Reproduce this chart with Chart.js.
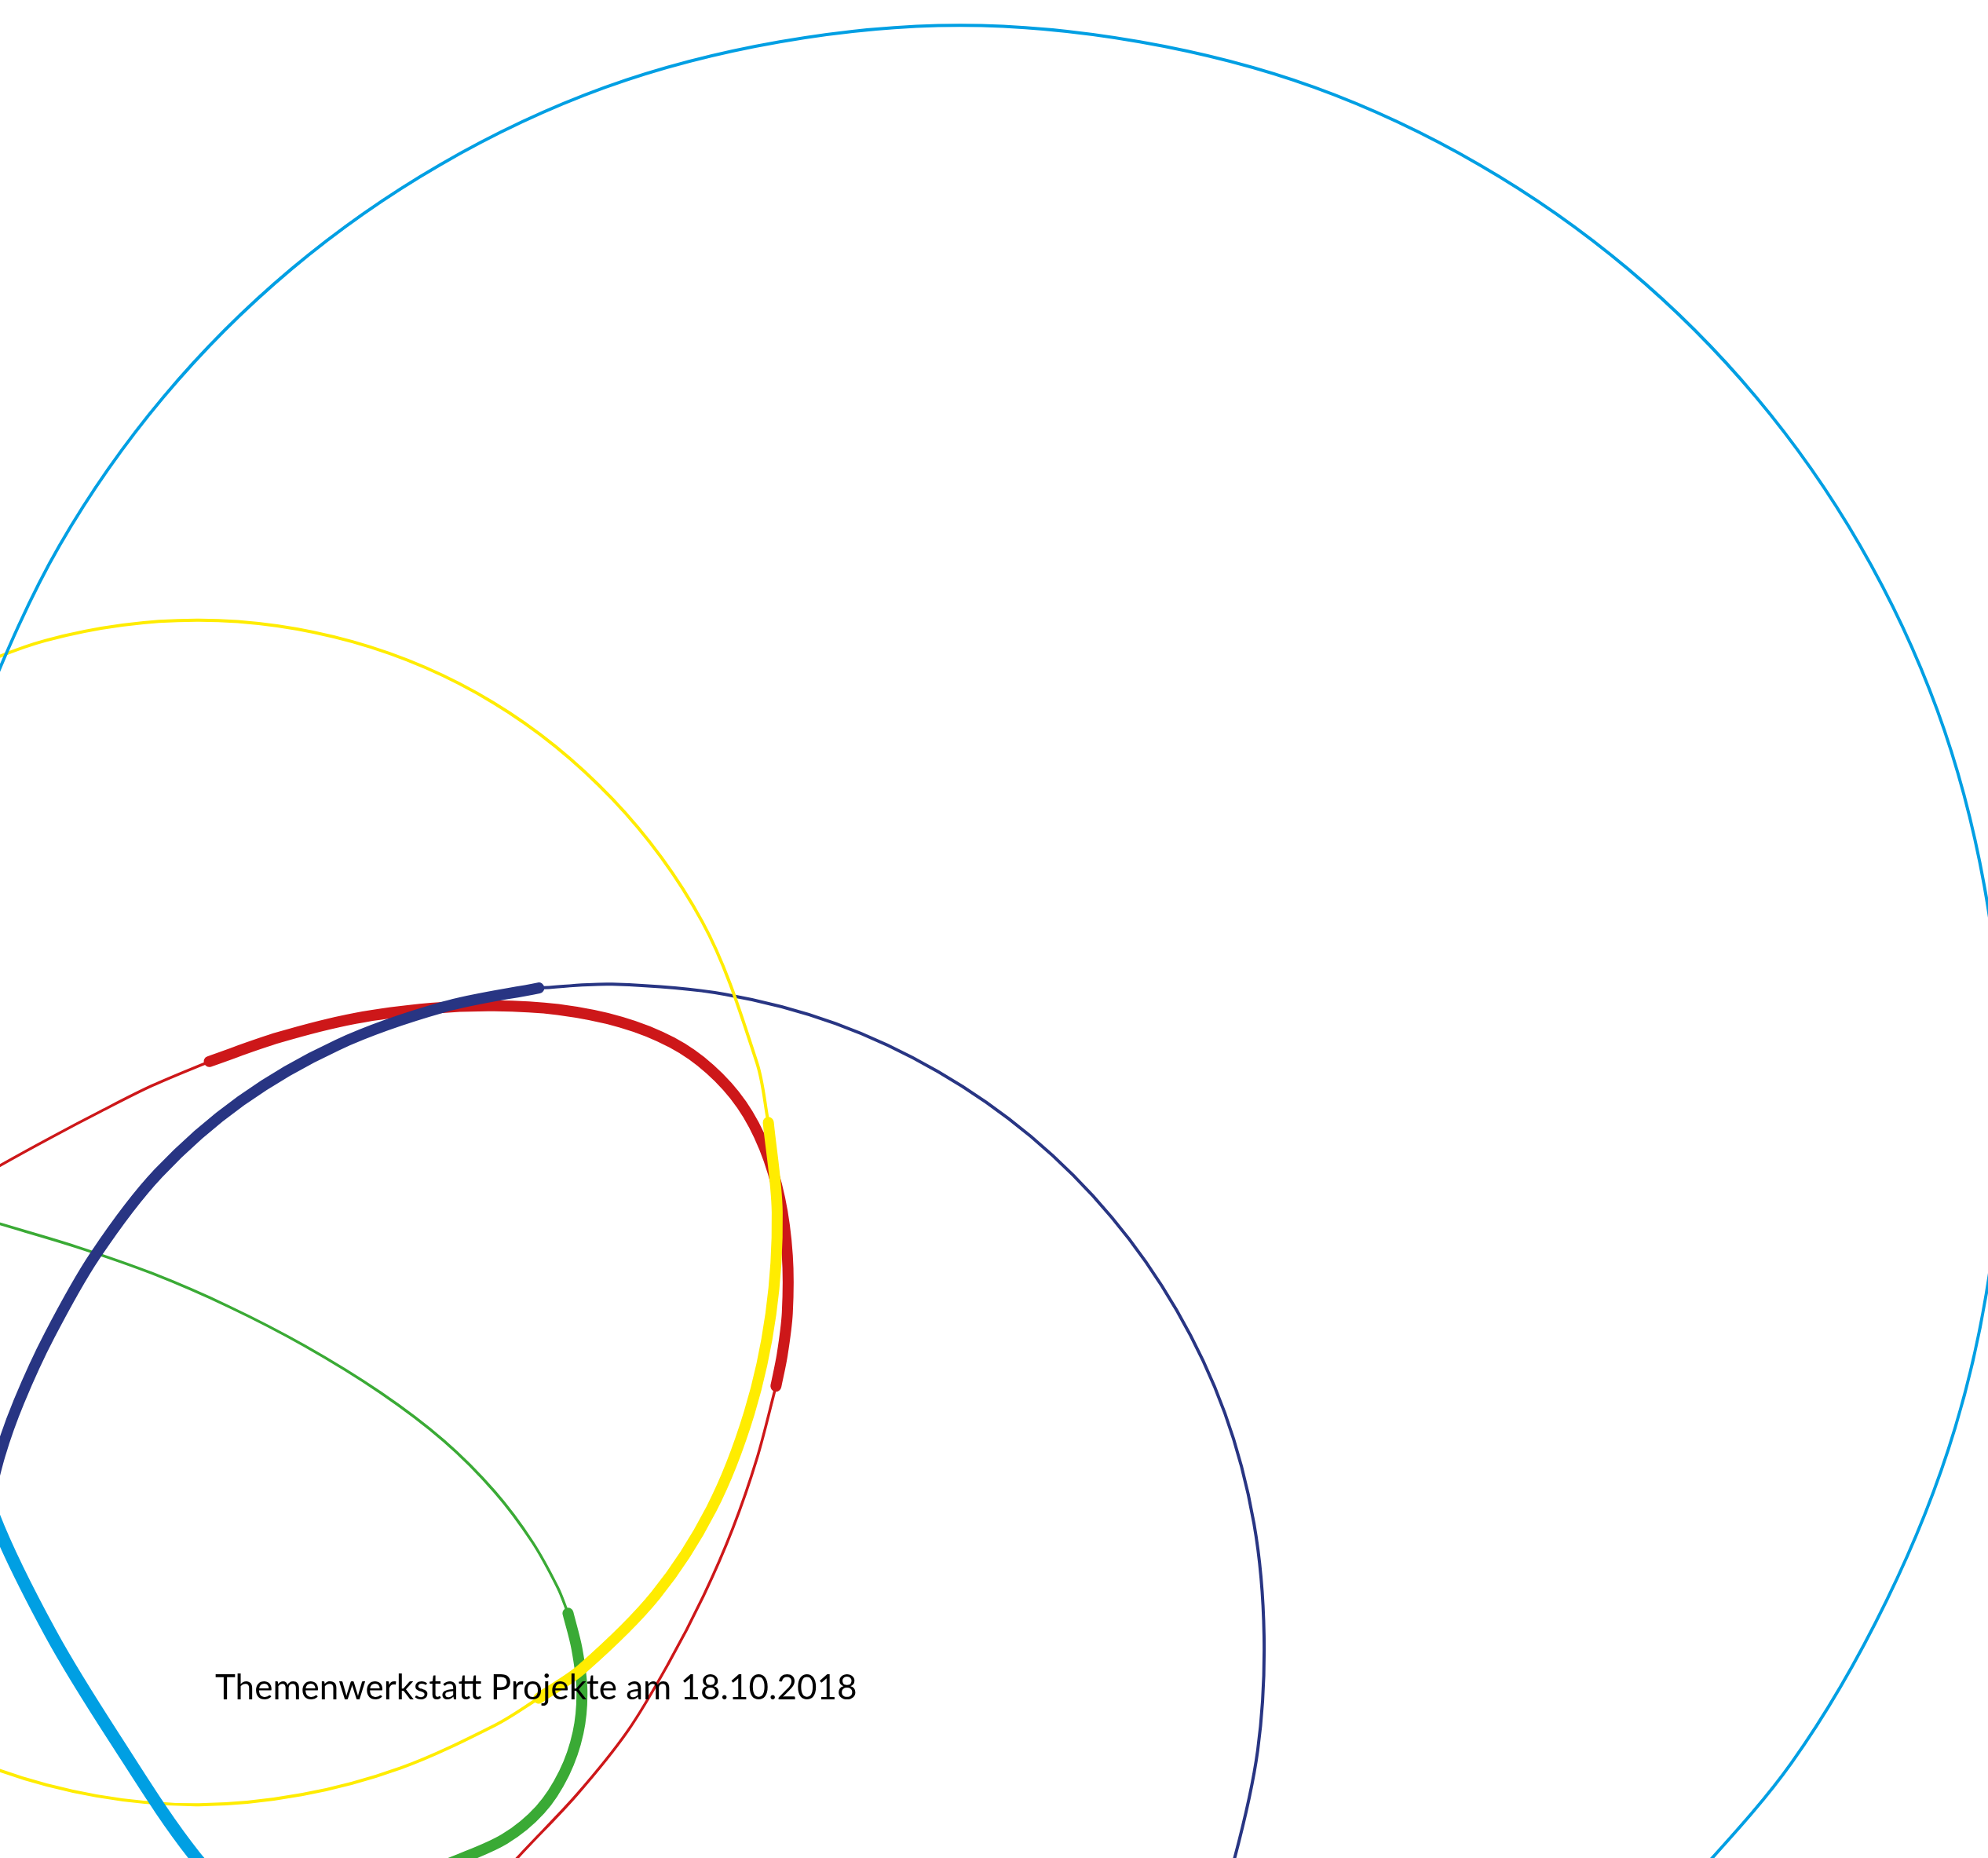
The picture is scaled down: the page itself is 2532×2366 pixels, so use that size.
<!DOCTYPE html>
<html>
<head>
<meta charset="utf-8">
<script src="https://cdn.jsdelivr.net/npm/chart.js@4/dist/chart.umd.min.js"></script>
<style>
  html, body { margin: 0; padding: 0; background: #ffffff; }
  #wrap { position: relative; width: 2532px; height: 2366px; overflow: hidden; }
  #c { position: absolute; left: 0; top: 0; }
  #caption { position: absolute; left: 274px; top: 2125px; font-family: Lato, "Open Sans", sans-serif;
             font-size: 44px; color: #000; white-space: nowrap; line-height: 1; }
</style>
</head>
<body>
<div id="wrap">
  <canvas id="c" width="2532" height="2366"></canvas>
  <div id="caption">Themenwerkstatt Projekte am 18.10.2018</div>
</div>
<script>
// Curves (units: reference picture, 1568 x 1465 grid, y downwards)
const blueThinX = [-35, -14, 47, 129, 230, 347, 477, 615, 757, 899, 1037, 1167, 1284, 1385, 1467, 1528, 1565, 1579, 1572, 1542, 1488, 1413, 1315];
const blueThinY = [628, 560, 430, 313, 212, 130, 69, 33, 20, 33, 69, 130, 212, 313, 430, 560, 698, 840, 984, 1126, 1262, 1390, 1505];
const blueThickX = [-50, -5, 40, 90, 154, 218];
const blueThickY = [1056, 1195, 1288, 1370, 1464, 1530];

const yellowThinAX = [-77, 36, 157, 278, 389, 483, 554, 597, 606];
const yellowThinAY = [552, 505, 489, 506, 554, 630, 727, 838, 885];
const yellowThickX = [606, 613, 608, 591, 561, 517, 459, 425];
const yellowThickY = [885, 956, 1036, 1114, 1190, 1258, 1316, 1339];
const yellowThinBX = [425, 391, 316, 238, 157, 76, -3, -77];
const yellowThinBY = [1339, 1360, 1394, 1415, 1423, 1416, 1395, 1360];

const navyThinX = [425, 483, 572, 659, 740, 813, 877, 928, 966, 989, 997, 992, 973, 957];
const navyThinY = [779, 776, 784, 807, 845, 896, 960, 1033, 1114, 1201, 1290, 1380, 1468, 1511];
const navyThickX = [425, 350, 266, 190, 125, 75, 39, 15, 0, -12];
const navyThickY = [779, 794, 824, 868, 925, 990, 1053, 1105, 1147, 1195];

const redThinAX = [-20, 0, 40, 80, 120, 165];
const redThinAY = [931, 919, 897, 876, 856, 837];
const redThickX = [165, 220, 280, 340, 390, 440, 490, 530, 560, 585, 603, 615, 621, 621, 617, 612];
const redThickY = [837, 818, 803, 795, 793, 796, 806, 822, 843, 871, 905, 945, 990, 1035, 1068, 1093];
const redThinBX = [612, 597, 578, 555, 527, 495, 455, 408, 385];
const redThinBY = [1093, 1150, 1205, 1258, 1312, 1365, 1415, 1465, 1492];

const greenThinX = [-20, 0, 60, 120, 180, 240, 300, 350, 390, 420, 440, 448];
const greenThinY = [959, 965, 983, 1004, 1030, 1061, 1098, 1136, 1176, 1216, 1252, 1272];
const greenThickX = [448, 455, 459, 456, 445, 426, 398, 360, 320];
const greenThickY = [1272, 1300, 1333, 1366, 1398, 1427, 1450, 1467, 1482];

const C_BLUE = '#009fe3', C_YELLOW = '#ffec00', C_NAVY = '#283583', C_RED = '#cd1719', C_GREEN = '#3aaa35';

function pts(xs, ys) { return xs.map((x, i) => ({ x: x, y: ys[i] })); }
function ds(xs, ys, color, width, order) {
  return { data: pts(xs, ys), borderColor: color, borderWidth: width, showLine: true, fill: false,
           pointRadius: 0, pointHoverRadius: 0, tension: 0.33, capBezierPoints: false,
           borderCapStyle: 'round', borderJoinStyle: 'round', order: order };
}

new Chart(document.getElementById('c'), {
  type: 'scatter',
  data: {
    datasets: [
      ds(blueThickX, blueThickY, C_BLUE, 16, 0),
      ds(blueThinX, blueThinY, C_BLUE, 4, 1),
      ds(yellowThickX, yellowThickY, C_YELLOW, 14, 2),
      ds(yellowThinAX, yellowThinAY, C_YELLOW, 4, 3),
      ds(yellowThinBX, yellowThinBY, C_YELLOW, 4, 3),
      ds(navyThickX, navyThickY, C_NAVY, 14, 4),
      ds(navyThinX, navyThinY, C_NAVY, 4, 5),
      ds(greenThickX, greenThickY, C_GREEN, 14, 6),
      ds(greenThinX, greenThinY, C_GREEN, 3.5, 7),
      ds(redThickX, redThickY, C_RED, 14, 8),
      ds(redThinAX, redThinAY, C_RED, 3.5, 9),
      ds(redThinBX, redThinBY, C_RED, 3.5, 9)
    ]
  },
  options: {
    responsive: false,
    animation: false,
    devicePixelRatio: 1,
    layout: { padding: 0 },
    plugins: { legend: { display: false }, tooltip: { enabled: false }, title: { display: false } },
    scales: {
      x: { type: 'linear', min: 0, max: 1568, display: false },
      y: { type: 'linear', min: 0, max: 1465, reverse: true, display: false }
    }
  }
});
</script>
</body>
</html>
